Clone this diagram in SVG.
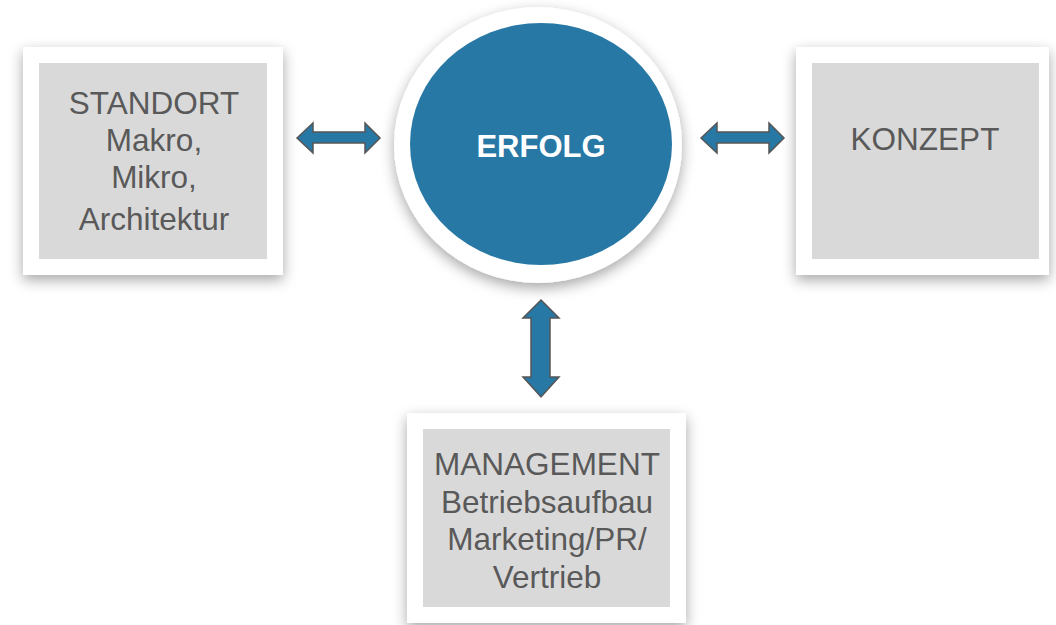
<svg xmlns="http://www.w3.org/2000/svg" width="1056" height="625" viewBox="0 0 1056 625">
<defs>
<filter id="sh" x="-20%" y="-20%" width="140%" height="140%">
<feDropShadow dx="0" dy="5" stdDeviation="7" flood-color="#000" flood-opacity="0.35"/>
</filter>
<style>
.frame{fill:#fff;filter:url(#sh)}
.box{fill:#d9d9d9}
.lbl{font-family:"Liberation Sans",Arial,sans-serif;font-size:31.5px;fill:#595959;text-anchor:middle}
.arr{fill:#2878a5;stroke:#555;stroke-width:1.5;stroke-linejoin:miter}
</style>
</defs>
<rect width="1056" height="625" fill="#fff"/>
<g id="standort">
<rect class="frame" x="23" y="47" width="260" height="228"/>
<rect class="box" x="39" y="63" width="228" height="196"/>
<text class="lbl" x="154" y="114">STANDORT</text>
<text class="lbl" x="154" y="151">Makro,</text>
<text class="lbl" x="154" y="188">Mikro,</text>
<text class="lbl" x="154" y="230">Architektur</text>
</g>
<g id="konzept">
<rect class="frame" x="796" y="47" width="253" height="228"/>
<rect class="box" x="812" y="63" width="227" height="196"/>
<text class="lbl" x="925" y="150">KONZEPT</text>
</g>
<g id="management">
<rect class="frame" x="407" y="413" width="279" height="210"/>
<rect class="box" x="423" y="429" width="247" height="178"/>
<text class="lbl" x="547" y="475">MANAGEMENT</text>
<text class="lbl" x="547" y="513">Betriebsaufbau</text>
<text class="lbl" x="547" y="550">Marketing/PR/</text>
<text class="lbl" x="547" y="588">Vertrieb</text>
</g>
<g id="erfolg">
<ellipse cx="538" cy="145" rx="144" ry="138" fill="#fff" filter="url(#sh)"/>
<ellipse cx="541" cy="144" rx="131" ry="121" fill="#2878a5"/>
<text x="541" y="157" font-family="Liberation Sans,Arial,sans-serif" font-size="31" font-weight="bold" fill="#fff" text-anchor="middle">ERFOLG</text>
</g>
<g id="connectors">
<polygon class="arr" points="297,138 313,123 313,132 365,132 365,123 380,138 365,153 365,143 313,143 313,153"/>
<polygon class="arr" points="701,138 717,123 717,132 769,132 769,123 784,138 769,153 769,143 717,143 717,153"/>
<polygon class="arr" points="541,300 559,318 550,318 550,377 559,377 541,397 523,377 531,377 531,318 523,318"/>
</g>
</svg>
